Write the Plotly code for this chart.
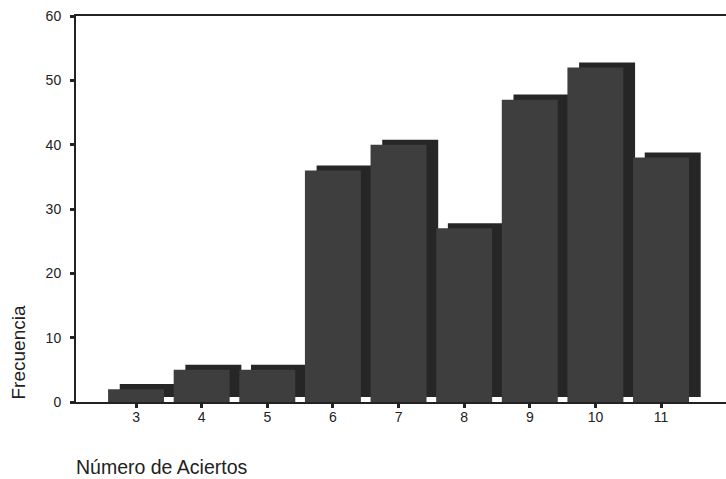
import plotly.graph_objects as go

aciertos = [3, 4, 5, 6, 7, 8, 9, 10, 11]
frecuencia = [2, 5, 5, 36, 40, 27, 47, 52, 38]
y_ticks = [0, 10, 20, 30, 40, 50, 60]

BAR_W = 0.853
SH_DX = 0.178
SH_DY = 0.78

fig = go.Figure()
# shadow (3D depth) bars
fig.add_trace(go.Bar(
    x=aciertos, y=frecuencia, base=SH_DY, width=BAR_W,
    offset=-BAR_W / 2 + SH_DX,
    marker=dict(color="#262626", line=dict(width=0)),
    hoverinfo="skip", showlegend=False,
))
# front bars
fig.add_trace(go.Bar(
    x=aciertos, y=frecuencia, width=BAR_W,
    marker=dict(color="#3e3e3e", line=dict(width=0)),
    showlegend=False,
))

axis_color = "#222222"
fig.update_layout(
    width=726, height=479,
    margin=dict(l=76, r=0, t=16, b=77),
    paper_bgcolor="white", plot_bgcolor="white",
    barmode="overlay",
    font=dict(family="Liberation Sans, Arial, sans-serif", color=axis_color),
    xaxis=dict(
        range=[2.085, 11.99], tickvals=aciertos, ticktext=[str(a) for a in aciertos],
        showgrid=False, zeroline=False,
        showline=True, linecolor=axis_color, linewidth=2, mirror=True,
        ticks="outside", ticklen=4, tickwidth=3, tickcolor=axis_color,
        tickfont=dict(size=14, color=axis_color),
        ticklabelstandoff=-3,
    ),
    yaxis=dict(
        range=[0, 60], tickvals=y_ticks,
        showgrid=False, zeroline=False,
        showline=True, linecolor=axis_color, linewidth=2,
        ticks="outside", ticklen=4, tickwidth=3, tickcolor=axis_color,
        tickfont=dict(size=14, color=axis_color),
        ticklabelstandoff=6,
    ),
    annotations=[
        dict(text="Frecuencia", xref="paper", yref="paper",
             x=(17.5 - 76) / 650, y=(402 - 353) / 386,
             xanchor="center", yanchor="middle", textangle=-90,
             showarrow=False, font=dict(size=19, color=axis_color)),
        dict(text="Número de Aciertos", xref="paper", yref="paper",
             x=(74 - 76) / 650, y=(402 - 467) / 386,
             xanchor="left", yanchor="middle",
             showarrow=False, font=dict(size=19.5, color=axis_color)),
    ],
)

fig.write_html(
    "out.html",
    config={"displayModeBar": False},
    post_script="document.body.style.margin='0';document.body.style.padding='0';",
)
